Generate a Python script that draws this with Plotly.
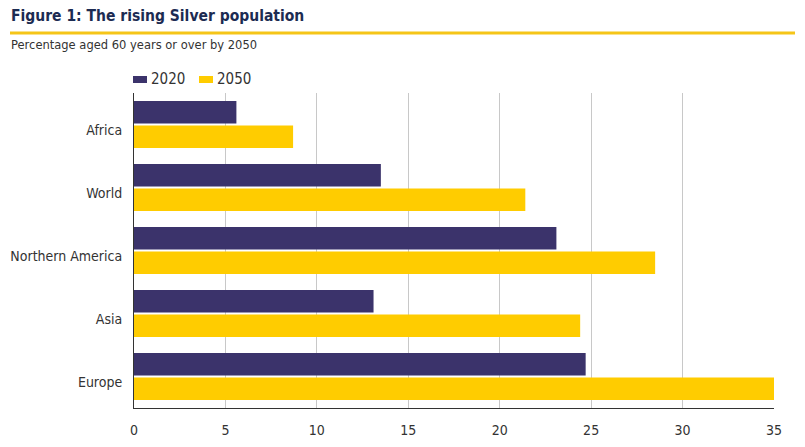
import plotly.graph_objects as go

# ── Data ──
regions   = ['Africa', 'World', 'Northern America', 'Asia', 'Europe']
pct_2020  = [5.6, 13.5, 23.1, 13.1, 24.7]
pct_2050  = [8.7, 21.4, 28.5, 24.4, 35.0]
x_ticks   = [0, 5, 10, 15, 20, 25, 30, 35]
series    = ['2020', '2050']

NAVY   = '#3b336b'
YELLOW = '#ffcc00'
FONT   = 'DejaVu Sans Condensed, Liberation Sans Narrow, Liberation Sans, sans-serif'

# ── Layout helpers (page pixel -> paper); page body has an 8px margin ──
W, H = 805, 447
OFF = 8
L, R, T, B = 134 - OFF, 31 + OFF, 93 - OFF, 38.5 + OFF
PW, PH = W - L - R, H - T - B
px = lambda x: (x - OFF - L) / PW
py = lambda y: (H - B - (y - OFF)) / PH

fig = go.Figure()
fig.add_trace(go.Bar(y=regions, x=pct_2020, name=series[0], orientation='h',
                     marker=dict(color=NAVY, line=dict(width=0))))
fig.add_trace(go.Bar(y=regions, x=pct_2050, name=series[1], orientation='h',
                     marker=dict(color=YELLOW, line=dict(width=0))))

fig.update_layout(
    width=W, height=H,
    margin=dict(l=L, r=R, t=T, b=B, pad=0, autoexpand=False),
    paper_bgcolor='white', plot_bgcolor='white',
    barmode='group', bargap=0.226, bargroupgap=0.08,
    font=dict(family=FONT, color='#333333'),
    showlegend=False,
)

fig.update_xaxes(range=[0, 35], tickvals=x_ticks, showgrid=True, automargin=False,
                 gridcolor='#c8c8c8', gridwidth=1, zeroline=False,
                 showline=True, linecolor='#333333', linewidth=1,
                 ticks='', ticklabelstandoff=9,
                 tickfont=dict(size=14, color='#333333'))
fig.update_yaxes(autorange='reversed', showgrid=False, zeroline=False, automargin=False,
                 showline=True, linecolor='#333333', linewidth=1,
                 ticks='', ticklabelstandoff=8, ticklabelshift=-6,
                 tickfont=dict(size=14, color='#333333'))

# title, yellow rule, subtitle
fig.add_annotation(text='<b>Figure 1: The rising Silver population</b>',
                   xref='paper', yref='paper', x=px(9), y=py(16),
                   xanchor='left', yanchor='middle', showarrow=False,
                   font=dict(size=15.5, color='#1c2b52', family=FONT))
fig.add_shape(type='line', xref='paper', yref='paper',
              x0=px(10), x1=px(795), y0=py(33), y1=py(33),
              line=dict(color='#f5c518', width=3))
fig.add_annotation(text='Percentage aged 60 years or over by 2050',
                   xref='paper', yref='paper', x=px(9), y=py(45),
                   xanchor='left', yanchor='middle', showarrow=False,
                   font=dict(size=11.5, color='#333333', family='DejaVu Sans, sans-serif'))

# legend: swatch + label
for i, (name, color) in enumerate(zip(series, [NAVY, YELLOW])):
    x0 = 133 + i * 66
    fig.add_shape(type='rect', xref='paper', yref='paper',
                  x0=px(x0), x1=px(x0 + 14), y0=py(83), y1=py(76),
                  fillcolor=color, line=dict(width=0))
    fig.add_annotation(text=name, xref='paper', yref='paper',
                       x=px(x0 + 16), y=py(79), xanchor='left', yanchor='middle',
                       showarrow=False, font=dict(size=15, color='#333333', family=FONT))

fig.write_html('out.html')
